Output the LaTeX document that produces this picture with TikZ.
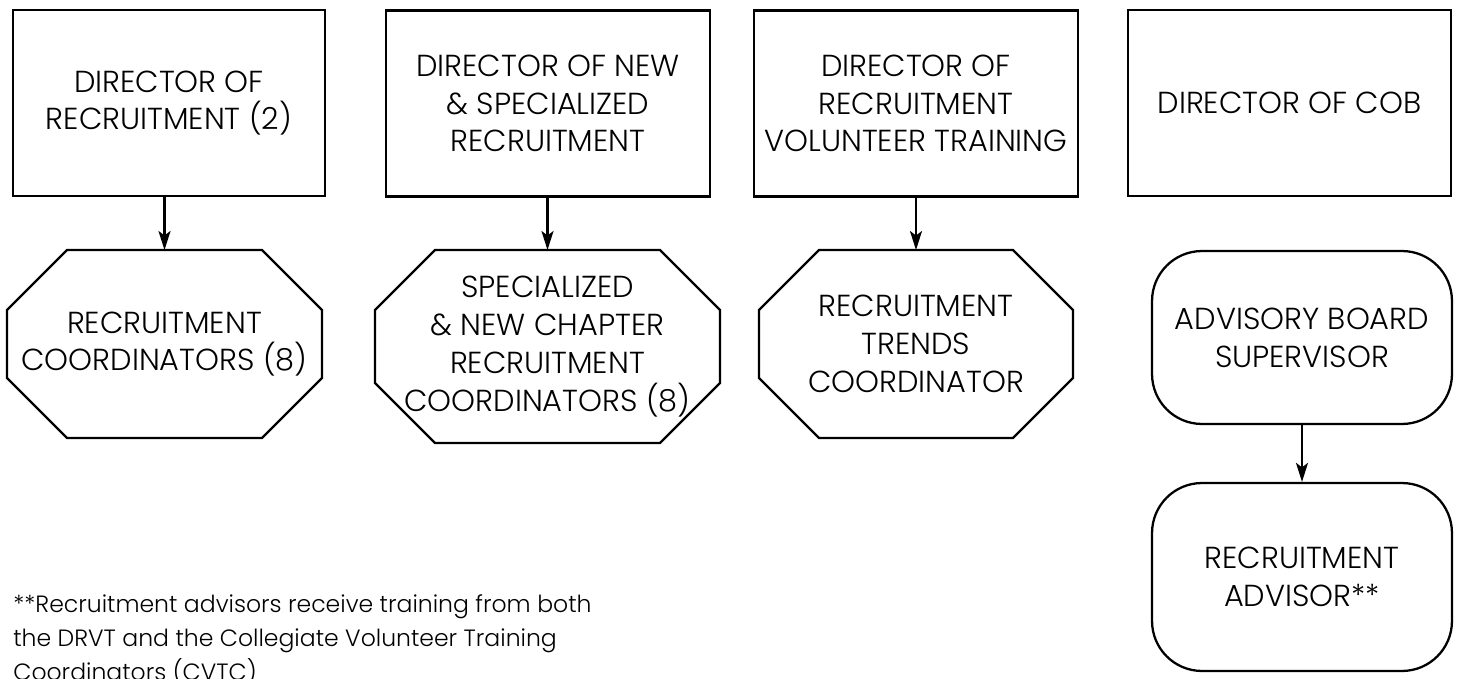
\documentclass[tikz,border=0pt]{standalone}
\usepackage{fontspec}
\IfFontExistsTF{Poppins Light}{\setmainfont{Poppins Light}}{\setmainfont{Poppins}}
\usetikzlibrary{arrows.meta,calc}

% chamfered outline round a named node, chamfer in px
\newcommand{\octline}[1]{\draw[line width=1.3pt] ($(#1.north west)+(60,0)$) -- ($(#1.north east)+(-60,0)$) -- ($(#1.north east)+(0,60)$) -- ($(#1.south east)+(0,-60)$) -- ($(#1.south east)+(-60,0)$) -- ($(#1.south west)+(60,0)$) -- ($(#1.south west)+(0,-60)$) -- ($(#1.north west)+(0,60)$) -- cycle;}

\tikzset{
	boxfont/.style={font=\fontsize{17.3}{21.5}\selectfont},
	dirbox/.style={draw, line width=1.3pt, minimum height=3.72cm, align=center, boxfont},
	octbox/.style={outer sep=0pt, inner sep=0pt, align=center, boxfont},
	roundbox/.style={draw, line width=1.3pt, rounded corners=1cm, minimum width=6cm, align=center, boxfont},
	arr/.style={line width=1.3pt, -{Stealth[length=0.38cm, width=0.24cm, inset=0.09cm]}},
}

\begin{document}
\begin{tikzpicture}[x=0.02cm, y=-0.02cm]
		%%%%% START %%%%%
		\useasboundingbox (0, 0) rectangle (1458, 679);
		\clip (0, 0) rectangle (1458, 679);
		
		% directors
		\node[dirbox, minimum width=6.24cm] (dirrec) at (169, 103) {DIRECTOR OF\\RECRUITMENT (2)};
		\node[dirbox, minimum width=6.48cm] (dirnew) at (548, 103.5) {DIRECTOR OF NEW\\\& SPECIALIZED\\RECRUITMENT};
		\node[dirbox, minimum width=6.48cm] (dirvol) at (916, 103.5) {DIRECTOR OF\\RECRUITMENT\\VOLUNTEER TRAINING};
		\node[dirbox, minimum width=6.46cm] (dircob) at (1289.5, 103) {DIRECTOR OF COB};
		
		% coordinators
		\node[octbox, minimum width=6.3cm, minimum height=3.76cm] (reccoord) at (164.5, 344) {RECRUITMENT\\COORDINATORS (8)};
		\node[octbox, minimum width=6.9cm, minimum height=3.86cm] (newcoord) at (547.5, 346.5) {SPECIALIZED\\\& NEW CHAPTER\\RECRUITMENT\\COORDINATORS (8)};
		\node[octbox, minimum width=6.28cm, minimum height=3.76cm] (trendcoord) at (916, 344) {RECRUITMENT\\TRENDS\\COORDINATOR};
		\octline{reccoord}
		\octline{newcoord}
		\octline{trendcoord}
		
		% advisory board
		\node[roundbox, minimum height=3.46cm] (boardsup) at (1302, 337.5) {ADVISORY BOARD\\SUPERVISOR};
		\node[roundbox, minimum height=3.76cm] (recadv) at (1302, 577) {RECRUITMENT\\ADVISOR**};
		
		\draw[arr] (reccoord.north |- dirrec.south) -- (reccoord.north);
		\draw[arr] (newcoord.north |- dirnew.south) -- (newcoord.north);
		\draw[arr] (trendcoord.north |- dirvol.south) -- (trendcoord.north);
		\draw[arr] (boardsup.south) -- (recadv.north);
		
		% footnote, last line cut by the frame
		\node[anchor=base west, align=left, inner sep=0pt, font=\fontsize{13.4}{19.35}\selectfont] (note) at (13, 680) {**Recruitment advisors receive training from both\\the DRVT and the Collegiate Volunteer Training\\Coordinators (CVTC)};
		
		%%%%% END %%%%%
\end{tikzpicture}
\end{document}
